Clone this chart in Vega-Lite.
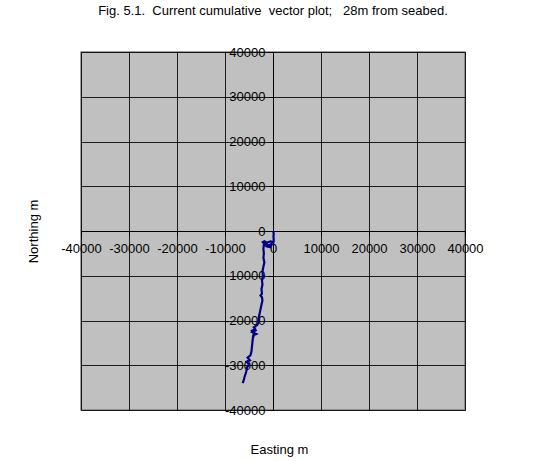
{
  "$schema": "https://vega.github.io/schema/vega-lite/v6.json",
  "autosize": "none",
  "width": 384,
  "height": 358,
  "padding": {"left": 81, "top": 52, "right": 95, "bottom": 51},
  "background": "#ffffff",
  "title": {
    "text": "Fig. 5.1. \u00a0Current cumulative \u00a0vector plot; \u00a0 28m from seabed.",
    "frame": "group",
    "anchor": "middle",
    "baseline": "alphabetic",
    "offset": 18,
    "font": "Liberation Sans",
    "fontSize": 13,
    "fontWeight": "normal",
    "color": "#000000"
  },
  "config": {
    "view": {"fill": "#c0c0c0", "stroke": "#808080", "strokeWidth": 1.5},
    "font": "Liberation Sans"
  },
  "data": {
    "values": [
      {"step": 0, "east": 0, "north": 0},
      {"step": 1, "east": 150, "north": -500},
      {"step": 2, "east": 100, "north": -1200},
      {"step": 3, "east": 150, "north": -2000},
      {"step": 4, "east": 100, "north": -2500},
      {"step": 5, "east": -500, "north": -2300},
      {"step": 6, "east": -1200, "north": -2600},
      {"step": 7, "east": -1800, "north": -2300},
      {"step": 8, "east": -2100, "north": -2500},
      {"step": 9, "east": -1500, "north": -3000},
      {"step": 10, "east": -800, "north": -3200},
      {"step": 11, "east": -300, "north": -2800},
      {"step": 12, "east": -600, "north": -3600},
      {"step": 13, "east": -1400, "north": -3400},
      {"step": 14, "east": -1900, "north": -2900},
      {"step": 15, "east": -2000, "north": -4000},
      {"step": 16, "east": -1900, "north": -5000},
      {"step": 17, "east": -2000, "north": -6000},
      {"step": 18, "east": -1800, "north": -7000},
      {"step": 19, "east": -2000, "north": -8000},
      {"step": 20, "east": -2200, "north": -9000},
      {"step": 21, "east": -2100, "north": -10000},
      {"step": 22, "east": -2300, "north": -11000},
      {"step": 23, "east": -2200, "north": -12000},
      {"step": 24, "east": -2400, "north": -13000},
      {"step": 25, "east": -2300, "north": -14000},
      {"step": 26, "east": -2600, "north": -14400},
      {"step": 27, "east": -2300, "north": -14800},
      {"step": 28, "east": -2200, "north": -15500},
      {"step": 29, "east": -2400, "north": -16500},
      {"step": 30, "east": -2600, "north": -17500},
      {"step": 31, "east": -2800, "north": -18500},
      {"step": 32, "east": -3000, "north": -19500},
      {"step": 33, "east": -3000, "north": -20500},
      {"step": 34, "east": -3300, "north": -21000},
      {"step": 35, "east": -4000, "north": -21500},
      {"step": 36, "east": -3600, "north": -22200},
      {"step": 37, "east": -4300, "north": -22600},
      {"step": 38, "east": -3500, "north": -23000},
      {"step": 39, "east": -4100, "north": -23300},
      {"step": 40, "east": -3800, "north": -22000},
      {"step": 41, "east": -4400, "north": -22300},
      {"step": 42, "east": -3900, "north": -23000},
      {"step": 43, "east": -4200, "north": -24000},
      {"step": 44, "east": -4300, "north": -25000},
      {"step": 45, "east": -4400, "north": -26000},
      {"step": 46, "east": -4500, "north": -27000},
      {"step": 47, "east": -4700, "north": -27800},
      {"step": 48, "east": -5300, "north": -28300},
      {"step": 49, "east": -4800, "north": -28900},
      {"step": 50, "east": -5500, "north": -29200},
      {"step": 51, "east": -5000, "north": -29800},
      {"step": 52, "east": -5400, "north": -30500},
      {"step": 53, "east": -5600, "north": -31500},
      {"step": 54, "east": -5900, "north": -32500},
      {"step": 55, "east": -6100, "north": -33300},
      {"step": 56, "east": -6300, "north": -34000}
    ]
  },
  "resolve": {"axis": {"x": "independent", "y": "independent"}},
  "layer": [
    {
      "mark": {"type": "point", "opacity": 0},
      "encoding": {
        "x": {
          "field": "east", "type": "quantitative",
          "scale": {"domain": [-40000, 40000], "nice": false, "zero": false},
          "axis": {
            "values": [-40000, -30000, -20000, -10000, 0, 10000, 20000, 30000, 40000],
            "grid": true, "gridColor": "#000000", "gridWidth": 1, "gridOpacity": 0.85,
            "labels": false, "ticks": false, "domain": false, "title": null
          }
        },
        "y": {
          "field": "north", "type": "quantitative",
          "scale": {"domain": [-40000, 40000], "nice": false, "zero": false},
          "axis": {
            "values": [-40000, -30000, -20000, -10000, 0, 10000, 20000, 30000, 40000],
            "grid": true, "gridColor": "#000000", "gridWidth": 1, "gridOpacity": 0.85,
            "labels": false, "ticks": false, "domain": false, "title": null
          }
        }
      }
    },
    {
      "mark": {"type": "line", "color": "#000080", "strokeWidth": 2.2, "clip": true},
      "encoding": {
        "order": {"field": "step", "type": "quantitative"},
        "x": {
          "field": "east", "type": "quantitative",
          "scale": {"domain": [-40000, 40000], "nice": false, "zero": false},
          "axis": {
            "orient": "bottom",
            "offset": -179,
            "values": [-40000, -30000, -20000, -10000, 0, 10000, 20000, 30000, 40000],
            "labelExpr": "datum.value < 0 ? '-' + format(-datum.value, 'd') : format(datum.value, 'd')",
            "grid": false,
            "domain": true, "domainColor": "#000000", "domainWidth": 1,
            "ticks": true, "tickColor": "#000000", "tickSize": 5,
            "labelFont": "Liberation Sans", "labelFontSize": 13, "labelColor": "#000000",
            "labelPadding": 6, "labelFlush": false, "labelOverlap": false,
            "title": "Easting m",
            "titleFont": "Liberation Sans", "titleFontSize": 13, "titleFontWeight": "normal",
            "titleColor": "#000000",
            "titleX": 198, "titleY": 218, "titleBaseline": "middle", "titleAlign": "center"
          }
        },
        "y": {
          "field": "north", "type": "quantitative",
          "scale": {"domain": [-40000, 40000], "nice": false, "zero": false},
          "axis": {
            "orient": "left",
            "offset": -192,
            "values": [-40000, -30000, -20000, -10000, 0, 10000, 20000, 30000, 40000],
            "labelExpr": "datum.value < 0 ? '-' + format(-datum.value, 'd') : format(datum.value, 'd')",
            "grid": false,
            "domain": true, "domainColor": "#000000", "domainWidth": 1,
            "ticks": true, "tickColor": "#000000", "tickSize": 5,
            "labelFont": "Liberation Sans", "labelFontSize": 13, "labelColor": "#000000",
            "labelPadding": 3, "labelFlush": false, "labelOverlap": false,
            "title": "Northing m",
            "titleFont": "Liberation Sans", "titleFontSize": 13, "titleFontWeight": "normal",
            "titleColor": "#000000",
            "titleX": -240, "titleY": 179, "titleAngle": 270,
            "titleBaseline": "middle", "titleAlign": "center"
          }
        }
      }
    }
  ]
}
